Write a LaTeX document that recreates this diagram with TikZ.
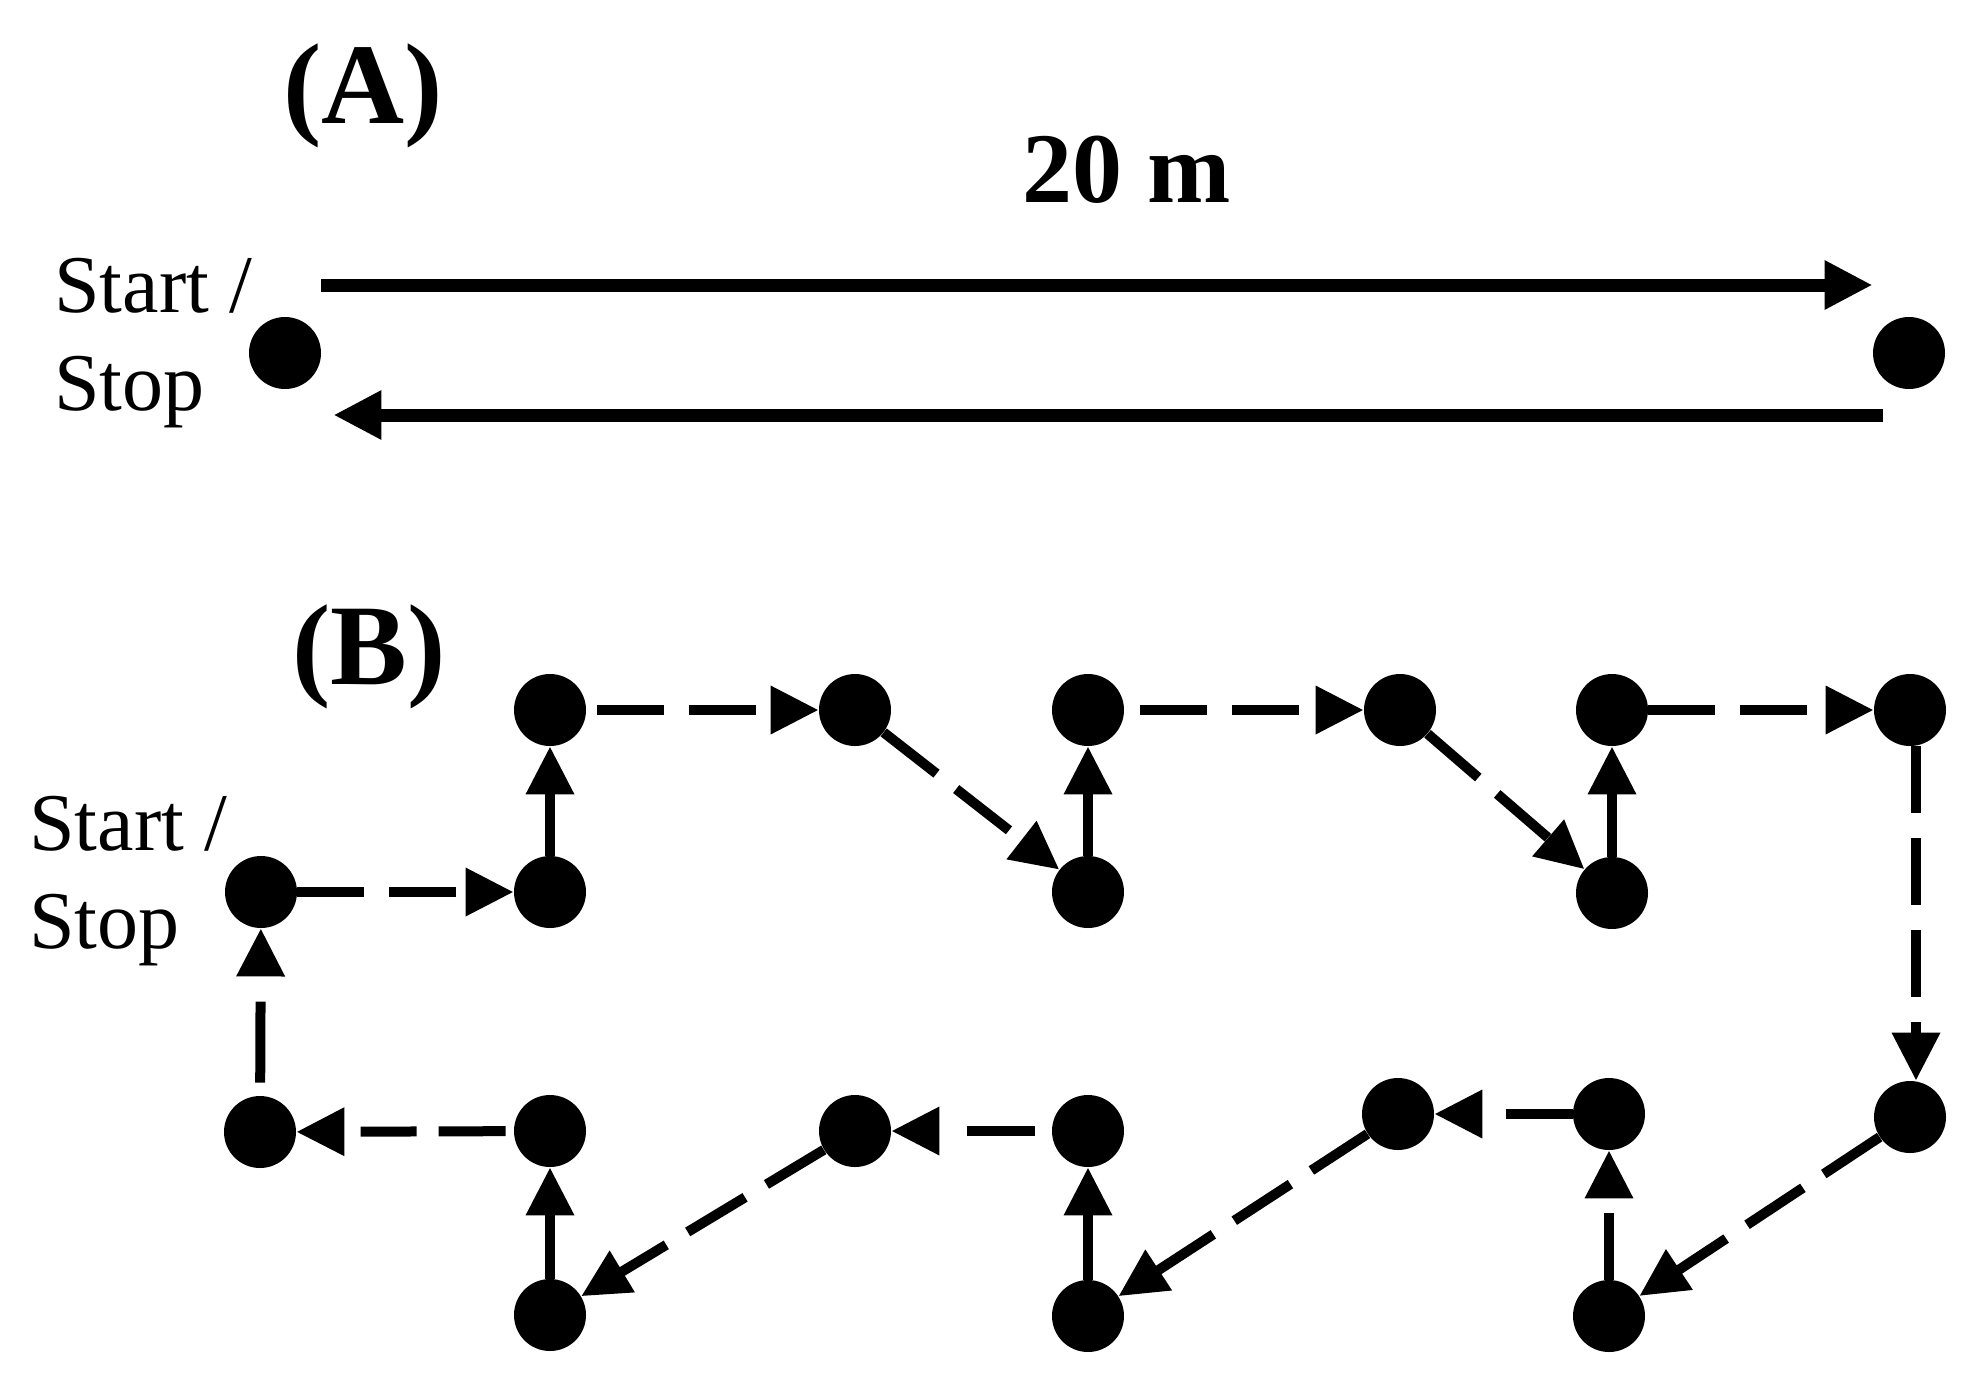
\documentclass[tikz,border=0pt]{standalone}
\usepackage{fontspec}
\setmainfont{Liberation Serif}
\usetikzlibrary{arrows.meta,calc}
\begin{document}
\begin{tikzpicture}[x=0.5pt,y=-0.5pt,
  dot/.style={circle,fill=black,inner sep=0pt,minimum size=36pt},
  lbl/.style={inner sep=0pt,font=\fontsize{41}{49}\selectfont},
  ttl/.style={inner sep=0pt,font=\fontsize{57.5}{60}\selectfont\bfseries},
  dist/.style={inner sep=0pt,font=\fontsize{50}{55}\selectfont\bfseries},
  runarrow/.style={line width=6.5pt,-{Triangle[length=24pt,width=23pt]}},
  walk/.style={line width=5pt,dash pattern=on 33.5pt off 12.5pt,-{Triangle[length=24pt,width=23pt]}},
]
\useasboundingbox (0,0) rectangle (1988,1378);

% ---------- Panel A ----------
\node[ttl,anchor=base] (tA) at (363,123) {(A)};
\node[dist,anchor=base] (len) at (1127,202) {20 m};
\node[lbl,anchor=base west] (ssA) at (54,312) {\begin{tabular}[t]{@{}l@{}}Start /\\Stop\end{tabular}};
\node[dot] (A1) at (285,353) {};
\node[dot] (A2) at (1909,353) {};
\draw[runarrow] ($(A1.east)+(0,-68)$) -- ($(A2.west)+(0,-68)$);
\draw[runarrow] ($(A2.west)+(10,62)$) -- ($(A1.east)+(12,62)$);

% ---------- Panel B ----------
\node[ttl,anchor=base] (tB) at (369,684) {(B)};
\node[lbl,anchor=base west] (ssB) at (29,850) {\begin{tabular}[t]{@{}l@{}}Start /\\Stop\end{tabular}};

\node[dot] (s)    at (261,892) {};
\node[dot] (r1c1) at (550,710) {};
\node[dot] (r1c2) at (855,710) {};
\node[dot] (r1c3) at (1088,710) {};
\node[dot] (r1c4) at (1400,710) {};
\node[dot] (r1c5) at (1612,710) {};
\node[dot] (r1c6) at (1910,710) {};
\node[dot] (r2c1) at (550,892) {};
\node[dot] (r2c3) at (1088,892) {};
\node[dot] (r2c5) at (1612,893) {};
\node[dot] (r3c0) at (260,1132) {};
\node[dot] (r3c1) at (550,1131) {};
\node[dot] (r3c2) at (855,1131) {};
\node[dot] (r3c3) at (1088,1131) {};
\node[dot] (r3c4) at (1398,1114) {};
\node[dot] (r3c5) at (1609,1114) {};
\node[dot] (r3c6) at (1910,1117) {};
\node[dot] (r4c1) at (550,1315) {};
\node[dot] (r4c3) at (1088,1316) {};
\node[dot] (r4c5) at (1609,1316) {};

\draw[walk] (s) -- (r2c1);
\draw[walk] (r2c1) -- (r1c1);
\draw[walk,dash phase=40.5pt] (r1c1) -- (r1c2);
\draw[walk] (r1c2) -- (r2c3);
\draw[walk] (r2c3) -- (r1c3);
\draw[walk,dash phase=38pt] (r1c3) -- (r1c4);
\draw[walk] (r1c4) -- (r2c5);
\draw[walk] (r2c5) -- (r1c5);
\draw[walk] (r1c5) -- (r1c6);
\draw[walk] ([xshift=3pt]r1c6.south) -- ([xshift=3pt]r3c6.north);
\draw[walk] (r3c6) -- (r4c5);
\draw[walk] (r4c5) -- (r3c5);
\draw[walk] (r3c5) -- (r3c4);
\draw[walk] (r3c4) -- (r4c3);
\draw[walk] (r4c3) -- (r3c3);
\draw[walk,dash pattern=on 0pt off 8.5pt on 34pt off 20pt] (r3c3) -- (r3c2);
\draw[walk] (r3c2) -- (r4c1);
\draw[walk] (r4c1) -- (r3c1);
\draw[walk,dash pattern=on 0pt off 4pt on 33.5pt off 11pt on 28pt off 14pt] (r3c1) -- (r3c0);
\draw[walk,dash pattern=on 0pt off 6.5pt on 40.5pt off 12pt] (r3c0) -- (s);
\end{tikzpicture}
\end{document}
